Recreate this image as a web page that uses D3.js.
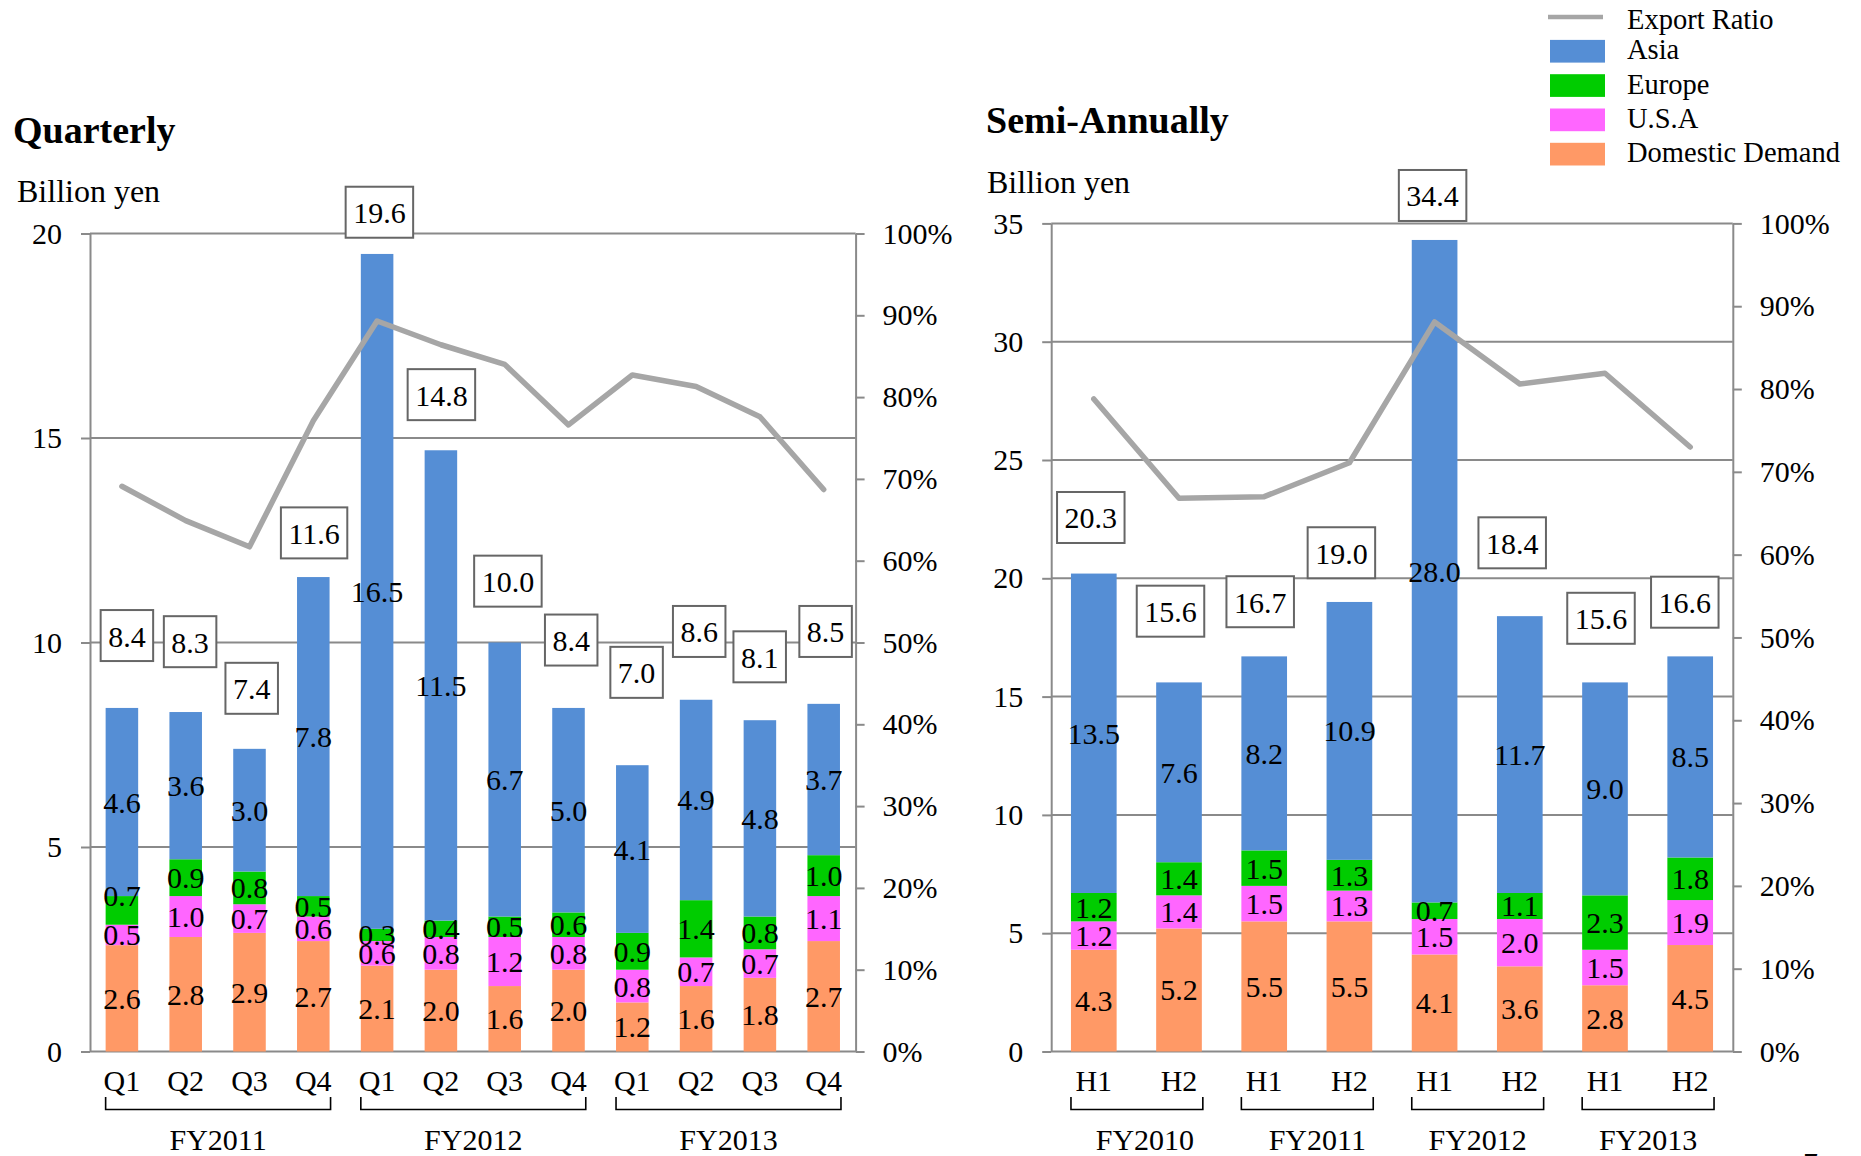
<!DOCTYPE html>
<html>
<head>
<meta charset="utf-8">
<script src="https://cdn.jsdelivr.net/npm/d3@7"></script>
<style>
  html, body { margin: 0; padding: 0; background: #fff; }
  svg text { font-family: "Liberation Serif", "Times New Roman", Times, serif; fill: #000; }
</style>
</head>
<body>
<svg id="chart" width="1861" height="1156"></svg>
<script>
// ---------- Quarterly sales by destination (billion yen) ----------
const quarterLabels = ["Q1", "Q2", "Q3", "Q4", "Q1", "Q2", "Q3", "Q4", "Q1", "Q2", "Q3", "Q4"];
const quarterYears  = ["FY2011", "FY2012", "FY2013"];
const qDomestic = [2.6, 2.8, 2.9, 2.7, 2.1, 2.0, 1.6, 2.0, 1.2, 1.6, 1.8, 2.7];
const qUSA      = [0.5, 1.0, 0.7, 0.6, 0.6, 0.8, 1.2, 0.8, 0.8, 0.7, 0.7, 1.1];
const qEurope   = [0.7, 0.9, 0.8, 0.5, 0.3, 0.4, 0.5, 0.6, 0.9, 1.4, 0.8, 1.0];
const qAsia     = [4.6, 3.6, 3.0, 7.8, 16.5, 11.5, 6.7, 5.0, 4.1, 4.9, 4.8, 3.7];
const qTotal    = [8.4, 8.3, 7.4, 11.6, 19.6, 14.8, 10.0, 8.4, 7.0, 8.6, 8.1, 8.5];
const qExportRatio = [69.1, 64.9, 61.7, 77.1, 89.3, 86.4, 84.0, 76.6, 82.7, 81.3, 77.6, 68.7];

// ---------- Semi-annual sales by destination (billion yen) ----------
const halfLabels = ["H1", "H2", "H1", "H2", "H1", "H2", "H1", "H2"];
const halfYears  = ["FY2010", "FY2011", "FY2012", "FY2013"];
const hDomestic = [4.3, 5.2, 5.5, 5.5, 4.1, 3.6, 2.8, 4.5];
const hUSA      = [1.2, 1.4, 1.5, 1.3, 1.5, 2.0, 1.5, 1.9];
const hEurope   = [1.2, 1.4, 1.5, 1.3, 0.7, 1.1, 2.3, 1.8];
const hAsia     = [13.5, 7.6, 8.2, 10.9, 28.0, 11.7, 9.0, 8.5];
const hTotal    = [20.3, 15.6, 16.7, 19.0, 34.4, 18.4, 15.6, 16.6];
const hExportRatio = [78.8, 66.8, 67.0, 71.1, 88.1, 80.6, 81.9, 73.0];

// ---------- Axis ticks ----------
const quarterAmountTicks = [0, 5, 10, 15, 20];
const halfAmountTicks    = [0, 5, 10, 15, 20, 25, 30, 35];
const ratioTicks = [0, 10, 20, 30, 40, 50, 60, 70, 80, 90, 100];

// ---------- Series names and colours ----------
const seriesKeys   = ["domestic", "usa", "europe", "asia"];
const seriesNames  = { domestic: "Domestic Demand", usa: "U.S.A", europe: "Europe", asia: "Asia" };
const seriesColors = { domestic: "#FF9966", usa: "#FF66FF", europe: "#00CC00", asia: "#558ED5" };
const ratioName  = "Export Ratio";
const ratioColor = "#A6A6A6";
const gridColor  = "#8A8A8A";
const serifFont  = '"Liberation Serif", "Times New Roman", Times, serif';

// Where each total box sits (axis units) and its small sideways nudge (px)
const quarterTotalBoxLevel = [10.17, 10.02, 8.88, 12.68, 20.52, 16.06, 11.50, 10.06, 9.27, 10.27, 9.65, 10.27];
const quarterTotalBoxDx    = [5, 4.4, 2.2, 0.8, 2.3, 0.5, 3.2, 2.7, 4.3, 3.1, -0.2, 1.9];
const halfTotalBoxLevel    = [22.57, 18.61, 19.01, 21.08, 36.18, 21.50, 18.31, 18.99];
const halfTotalBoxDx       = [-3, -8.5, -4, -8, -2, -7.6, -4, -5.4];
const halfYearLabelDx      = [8, 10, 0, 0];
// Segment labels lifted off their default centred spot (px), keyed "series-index"
const quarterSegmentNudge  = { "europe-0": -15 };

const svg = d3.select("#chart");

function drawPanel(cfg) {
  const g = svg.append("g");
  const n = cfg.labels.length;
  const rows = cfg.labels.map((lab, i) => ({
    i, lab,
    domestic: cfg.domestic[i], usa: cfg.usa[i], europe: cfg.europe[i], asia: cfg.asia[i],
    total: cfg.total[i], ratio: cfg.ratio[i]
  }));

  const x = d3.scaleBand().domain(d3.range(n)).range([cfg.left, cfg.right]).padding(0);
  const y = d3.scaleLinear().domain([0, cfg.yMax]).range([cfg.bottom, cfg.top]);
  const yr = d3.scaleLinear().domain([0, 100]).range([cfg.bottom, cfg.top]);
  const bw = x.bandwidth() * cfg.barFrac;
  const cx = i => x(i) + x.bandwidth() / 2;
  const nudge = cfg.segmentNudge || {};

  // Titles
  g.append("text").attr("x", cfg.titleX).attr("y", cfg.titleY)
    .attr("font-size", 38).attr("font-weight", "bold").text(cfg.title);
  g.append("text").attr("x", cfg.unitX).attr("y", cfg.unitY)
    .attr("font-size", 32).text("Billion yen");

  // Horizontal gridlines
  g.append("g").selectAll("line").data(cfg.amountTicks).join("line")
    .attr("x1", cfg.left).attr("x2", cfg.right)
    .attr("y1", d => y(d)).attr("y2", d => y(d))
    .attr("stroke", gridColor).attr("stroke-width", 2);

  // Left amount axis
  const axL = g.append("g").attr("transform", `translate(${cfg.left},0)`)
    .call(d3.axisLeft(y).tickValues(cfg.amountTicks).tickSize(9).tickSizeOuter(0).tickPadding(19).tickFormat(d3.format("d")));
  axL.attr("font-size", 30).attr("font-family", serifFont);
  axL.selectAll("text").attr("font-family", serifFont);
  axL.selectAll("path, line").attr("stroke", gridColor).attr("stroke-width", 2);

  // Right ratio axis
  const axR = g.append("g").attr("transform", `translate(${cfg.right},0)`)
    .call(d3.axisRight(yr).tickValues(ratioTicks).tickSize(9).tickSizeOuter(0).tickPadding(18).tickFormat(d => d + "%"));
  axR.attr("font-size", 30).attr("font-family", serifFont);
  axR.selectAll("text").attr("font-family", serifFont);
  axR.selectAll("path, line").attr("stroke", gridColor).attr("stroke-width", 2);

  // Stacked bars
  const stacked = d3.stack().keys(seriesKeys)(rows);
  const layers = g.append("g").selectAll("g").data(stacked).join("g")
    .attr("fill", d => seriesColors[d.key]);
  layers.selectAll("rect").data(d => d).join("rect")
    .attr("x", d => cx(d.data.i) - bw / 2)
    .attr("width", bw)
    .attr("y", d => y(d[1]))
    .attr("height", d => y(d[0]) - y(d[1]));

  // Export ratio line
  const line = d3.line().x(d => cx(d.i)).y(d => yr(d.ratio));
  g.append("path").datum(rows).attr("d", line)
    .attr("fill", "none").attr("stroke", ratioColor).attr("stroke-width", 5.5)
    .attr("stroke-linejoin", "round").attr("stroke-linecap", "round");

  // Segment value labels
  const segLabels = g.append("g").attr("font-size", 30).attr("text-anchor", "middle");
  stacked.forEach(layer => {
    segLabels.selectAll(null).data(layer).join("text")
      .attr("x", d => cx(d.data.i))
      .attr("y", d => (y(d[0]) + y(d[1])) / 2 + 10.5 + (nudge[layer.key + "-" + d.data.i] || 0))
      .text(d => d.data[layer.key].toFixed(1));
  });

  // Total value boxes
  const boxes = g.append("g").selectAll("g").data(rows).join("g")
    .attr("transform", d => `translate(${cx(d.i) + cfg.boxDx[d.i]},${y(cfg.boxLevel[d.i])})`);
  boxes.append("rect").attr("fill", "#fff").attr("stroke", "#666").attr("stroke-width", 2);
  boxes.append("text").attr("font-size", 30).attr("text-anchor", "middle").attr("y", 11)
    .text(d => d.total.toFixed(1));
  boxes.each(function () {
    const grp = d3.select(this);
    const w = grp.select("text").node().getComputedTextLength() + 15;
    grp.select("rect").attr("x", -w / 2).attr("y", -25.5).attr("width", w).attr("height", 51);
  });

  // Category labels
  g.append("g").attr("font-size", 30).attr("text-anchor", "middle")
    .selectAll("text").data(rows).join("text")
    .attr("x", d => cx(d.i)).attr("y", 1091).text(d => d.lab);

  // Fiscal-year brackets
  const per = cfg.groupSize;
  cfg.years.forEach((yr_, k) => {
    const xl = cx(k * per) - bw / 2;
    const xr = cx(k * per + per - 1) + bw / 2 + 1;
    g.append("path")
      .attr("d", `M${xl},1097V1109.5H${xr}V1097`)
      .attr("fill", "none").attr("stroke", "#000").attr("stroke-width", 1.6);
    g.append("text").attr("font-size", 30).attr("text-anchor", "middle")
      .attr("x", (xl + xr) / 2 + (cfg.yearDx ? cfg.yearDx[k] : 0)).attr("y", 1150).text(yr_);
  });
}

drawPanel({
  title: "Quarterly", titleX: 13, titleY: 142.5, unitX: 17, unitY: 201.5,
  labels: quarterLabels, years: quarterYears, groupSize: 4,
  domestic: qDomestic, usa: qUSA, europe: qEurope, asia: qAsia, total: qTotal, ratio: qExportRatio,
  amountTicks: quarterAmountTicks, yMax: 20,
  left: 90, right: 855.6, top: 233.5, bottom: 1051.5, barFrac: 0.51,
  boxLevel: quarterTotalBoxLevel, boxDx: quarterTotalBoxDx, segmentNudge: quarterSegmentNudge
});

drawPanel({
  title: "Semi-Annually", titleX: 986, titleY: 133, unitX: 987, unitY: 193,
  labels: halfLabels, years: halfYears, groupSize: 2, yearDx: halfYearLabelDx,
  domestic: hDomestic, usa: hUSA, europe: hEurope, asia: hAsia, total: hTotal, ratio: hExportRatio,
  amountTicks: halfAmountTicks, yMax: 35,
  left: 1051.2, right: 1732.8, top: 223.4, bottom: 1051.5, barFrac: 0.536,
  boxLevel: halfTotalBoxLevel, boxDx: halfTotalBoxDx
});

// Legend
const legend = svg.append("g").attr("font-size", 28.5);
const legendItems = [
  { name: ratioName, color: ratioColor, line: true },
  { name: seriesNames.asia, color: seriesColors.asia },
  { name: seriesNames.europe, color: seriesColors.europe },
  { name: seriesNames.usa, color: seriesColors.usa },
  { name: seriesNames.domestic, color: seriesColors.domestic }
];
legendItems.forEach((it, i) => {
  const cy = 17 + i * 34.3;
  if (it.line) {
    legend.append("line").attr("x1", 1548).attr("x2", 1603).attr("y1", cy).attr("y2", cy)
      .attr("stroke", it.color).attr("stroke-width", 4.5);
    legend.append("text").attr("x", 1627).attr("y", cy + 12).text(it.name);
  } else {
    legend.append("rect").attr("x", 1550).attr("y", cy - 11.4).attr("width", 55).attr("height", 22.7)
      .attr("fill", it.color);
    legend.append("text").attr("x", 1627).attr("y", cy + 8).text(it.name);
  }
});

// Page number at the lower edge
svg.append("text").attr("x", 1803).attr("y", 1173).attr("font-size", 30).text("7");
</script>
</body>
</html>
